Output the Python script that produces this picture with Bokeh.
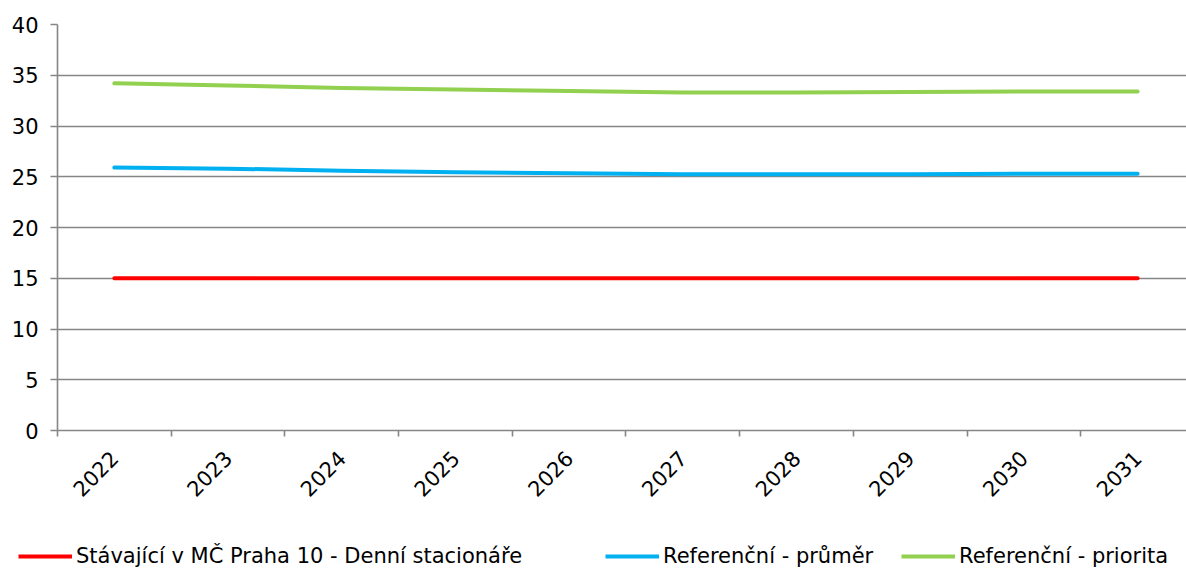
import math
from bokeh.plotting import figure
from bokeh.layouts import column, row
from bokeh.models import ColumnDataSource, FixedTicker, Legend, LegendItem, Range1d
from bokeh.embed import file_html
from bokeh.resources import INLINE

years = ["2022", "2023", "2024", "2025", "2026", "2027", "2028", "2029", "2030", "2031"]
stavajici = [15, 15, 15, 15, 15, 15, 15, 15, 15, 15]
ref_prumer = [25.9, 25.8, 25.6, 25.45, 25.35, 25.25, 25.25, 25.25, 25.3, 25.3]
ref_priorita = [34.2, 34.0, 33.75, 33.6, 33.45, 33.3, 33.3, 33.35, 33.4, 33.4]
y_ticks = [0, 5, 10, 15, 20, 25, 30, 35, 40]

series_names = ["Stávající v MČ Praha 10 - Denní stacionáře", "Referenční - průměr", "Referenční - priorita"]
colors = ["#FF0000", "#00B0F0", "#92D050"]

xs = list(range(len(years)))
FONT = "DejaVu Sans"
GRID = "#868686"

p = figure(width=1186, height=541, output_backend="svg", toolbar_location=None,
           x_range=Range1d(-0.5, 9.43), y_range=Range1d(0, 40),
           min_border_left=57, min_border_right=0, min_border_top=24, min_border_bottom=111)
p.outline_line_color = None
p.background_fill_color = "white"
p.border_fill_color = "white"

# grid
p.xgrid.grid_line_color = None
p.ygrid.grid_line_color = GRID
p.ygrid.grid_line_width = 1.6
p.ygrid.ticker = FixedTicker(ticks=y_ticks)

# y axis
p.yaxis.ticker = FixedTicker(ticks=y_ticks)
p.yaxis.axis_line_color = GRID
p.yaxis.axis_line_width = 1.6
p.yaxis.major_tick_line_color = GRID
p.yaxis.major_tick_line_width = 1.6
p.yaxis.major_tick_out = 7
p.yaxis.major_tick_in = 0
p.yaxis.minor_tick_line_color = None
p.yaxis.major_label_text_font = FONT
p.yaxis.major_label_text_font_size = "21px"
p.yaxis.major_label_text_color = "black"
p.yaxis.major_label_standoff = 12

# x axis
p.xaxis.ticker = FixedTicker(ticks=xs, minor_ticks=[i - 0.5 for i in range(len(years) + 1)])
p.xaxis.major_label_overrides = {i: y for i, y in enumerate(years)}
p.xaxis.axis_line_color = GRID
p.xaxis.axis_line_width = 1.6
p.xaxis.major_tick_line_color = None
p.xaxis.major_tick_out = 0
p.xaxis.major_tick_in = 0
p.xaxis.minor_tick_line_color = GRID
p.xaxis.minor_tick_line_width = 1.6
p.xaxis.minor_tick_out = 6
p.xaxis.minor_tick_in = 0
p.xaxis.major_label_orientation = math.pi / 4
p.xaxis.major_label_text_font = FONT
p.xaxis.major_label_text_font_size = "21px"
p.xaxis.major_label_text_color = "black"
p.xaxis.major_label_standoff = 18

for vals, c in zip([stavajici, ref_prumer, ref_priorita], colors):
    src = ColumnDataSource(dict(x=xs, y=vals))
    p.line("x", "y", source=src, line_color=c, line_width=4, line_cap="round", line_join="round")

# legend strip below the chart
leg = figure(width=1186, height=30, output_backend="svg", toolbar_location=None,
             x_range=Range1d(0, 1), y_range=Range1d(0, 1),
             x_axis_location=None, y_axis_location=None,
             min_border_left=0, min_border_right=0, min_border_top=0, min_border_bottom=0)
leg.grid.visible = False
leg.outline_line_color = None
leg.background_fill_color = "white"
leg.border_fill_color = "white"

legend_x = [18, 605, 901]
for name, c, lx in zip(series_names, colors, legend_x):
    r = leg.line(x=[-5, -4], y=[-5, -5], line_color=c, line_width=4)
    lg = Legend(items=[LegendItem(label=name, renderers=[r])], location=(lx, 3),
                orientation="horizontal", padding=0, margin=0, spacing=0,
                glyph_width=54, glyph_height=22, label_standoff=4, label_height=22,
                border_line_color=None, background_fill_alpha=0,
                label_text_font=FONT, label_text_font_size="21px", label_text_color="black")
    leg.add_layout(lg, "center")

layout = column(p, row(leg, spacing=0), spacing=0)
open("out.html", "w").write(file_html(layout, INLINE))
